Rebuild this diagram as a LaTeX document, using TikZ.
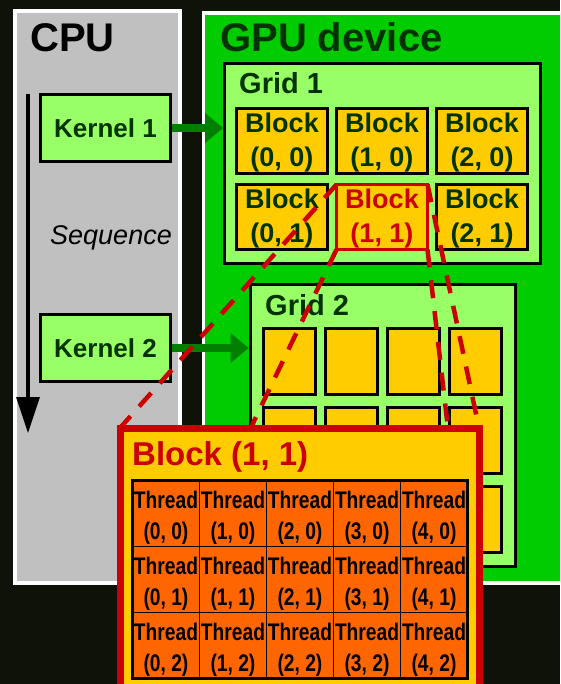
\documentclass[tikz,border=0pt]{standalone}
\usepackage{fontspec}
\setmainfont{Liberation Sans}
\newfontfamily\threadfont{Liberation Sans}[FakeStretch=0.8]
\usetikzlibrary{arrows.meta}

\definecolor{slidebg}{HTML}{0E1208}
\definecolor{cpugray}{HTML}{C0C0C0}
\definecolor{gpugreen}{HTML}{00CC00}
\definecolor{gridgreen}{HTML}{99FF66}
\definecolor{textgreen}{HTML}{003300}
\definecolor{arrowgreen}{HTML}{007F00}
\definecolor{blockyellow}{HTML}{FFCC00}
\definecolor{threadorange}{HTML}{FF6600}
\definecolor{zoomred}{HTML}{CC0000}

\tikzset{
  box/.style={draw, rectangle, anchor=north west, outer sep=0, inner sep=0},
  panel/.style={box, draw=white, line width=3.5pt},
  gridbox/.style={box, fill=gridgreen, line width=3pt},
  blockbox/.style={box, fill=blockyellow, line width=3pt, minimum width=91pt, minimum height=65pt,
    align=center, text=textgreen, text height=57.5pt, font=\fontsize{27}{34}\selectfont\bfseries},
  kernelbox/.style={box, fill=gridgreen, line width=3pt, minimum width=130pt, minimum height=67pt,
    text=textgreen, font=\fontsize{26}{32}\selectfont\bfseries},
  bigblock/.style={box, fill=blockyellow, draw=zoomred, line width=7pt},
  threadcell/.style={box, fill=threadorange, line width=1pt, minimum width=67pt, minimum height=66pt,
    align=center, text height=57pt, font={\threadfont\fontsize{24}{31}\selectfont\bfseries}},
  title/.style={anchor=base west, inner sep=0, font=\fontsize{40}{48}\selectfont\bfseries},
  gridtitle/.style={anchor=base west, inner sep=0, text=textgreen, font=\fontsize{29}{35}\selectfont\bfseries},
  bigtitle/.style={anchor=base west, inner sep=0, text=zoomred, font=\fontsize{33}{40}\selectfont\bfseries},
  seqlabel/.style={anchor=base west, inner sep=0, font=\fontsize{27}{32}\selectfont\itshape},
  kernelarrow/.style={draw=arrowgreen, line width=7.5pt, shorten <=1.5pt, shorten >=1.5pt,
    -{Triangle[length=18pt,width=29pt]}},
  seqarrow/.style={draw=black, line width=3.5pt, -{Triangle[length=36pt,width=23pt]}},
  zoomline/.style={draw=zoomred, line width=4.5pt, dash pattern=on 18pt off 13pt}
}

\begin{document}
\begin{tikzpicture}[x=1pt,y=-1pt]
\useasboundingbox (0,0) rectangle (560,684);
\clip (0,0) rectangle (560,684);
\fill[slidebg] (0,0) rectangle (560,684);
%panels
\node[panel, fill=cpugray, minimum width=165pt, minimum height=572pt] (cpu) at (15,11) {};
\node[panel, fill=gpugreen, minimum width=370pt, minimum height=570pt] (gpu) at (203.5,13) {};
\node[title, text=black] (cpulabel) at (30,52) {CPU};
\node[title, text=textgreen] (gpulabel) at (220,52) {GPU device};
%grid 1
\node[gridbox, minimum width=316pt, minimum height=200pt] (grid1) at (224.5,63.5) {};
\node[gridtitle] (grid1label) at (239,94) {Grid 1};
\foreach \i/\j in {0/0,1/0,2/0,0/1,2/1}{
    \node[blockbox] (b-\i-\j) at (236.5+100*\i,108.5+76*\j) {Block\\(\i, \j)};
}
\node[blockbox, draw=zoomred, text=zoomred] (b-1-1) at (336.5,184.5) {Block\\(1, 1)};
%grid 2
\node[gridbox, minimum width=265pt, minimum height=282.5pt] (grid2) at (250,284) {};
\node[gridtitle] (grid2label) at (265,315) {Grid 2};
\foreach \i in {0,...,3}{
    \foreach \j in {0,1,2}{
        \node[blockbox, minimum width=52pt, minimum height=66pt] (c-\i-\j) at (263.5+62*\i,328.5+79*\j) {};
    }
}
%kernels
\node[kernelbox] (k1) at (40.5,94.5) {Kernel 1};
\node[kernelbox] (k2) at (40.5,314.5) {Kernel 2};
\draw[kernelarrow] (k1) -- (k1 -| grid1.west);
\draw[kernelarrow] (k2) -- (k2 -| grid2.west);
%sequence
\coordinate (seqtop) at (28,94);
\coordinate (seqbot) at (28,433);
\draw[seqarrow] (seqtop) -- (seqbot);
\node[seqlabel] (seq) at (50,245) {Sequence};
%zoom lines
\coordinate (bignw) at (120,428);
\coordinate (bigse) at (479,700);
\draw[zoomline] (b-1-1.north west) -- (bignw);
\draw[zoomline] (b-1-1.south west) -- (bignw |- bigse);
\draw[zoomline] (b-1-1.north east) -- (bignw -| bigse);
\draw[zoomline] (b-1-1.south east) -- (bigse);
%block (1,1)
\node[bigblock, minimum width=359pt, minimum height=272pt] (big) at (bignw) {};
\node[bigtitle] (biglabel) at (132,465) {Block (1, 1)};
\foreach \i in {0,...,4}{
    \foreach \j in {0,1,2}{
        \node[threadcell] (t-\i-\j) at (132.5+67*\i,480.5+66*\j) {Thread\\(\i, \j)};
    }
}
\draw[line width=3pt] (t-0-0.north west) rectangle (t-4-2.south east);
\end{tikzpicture}
\end{document}
